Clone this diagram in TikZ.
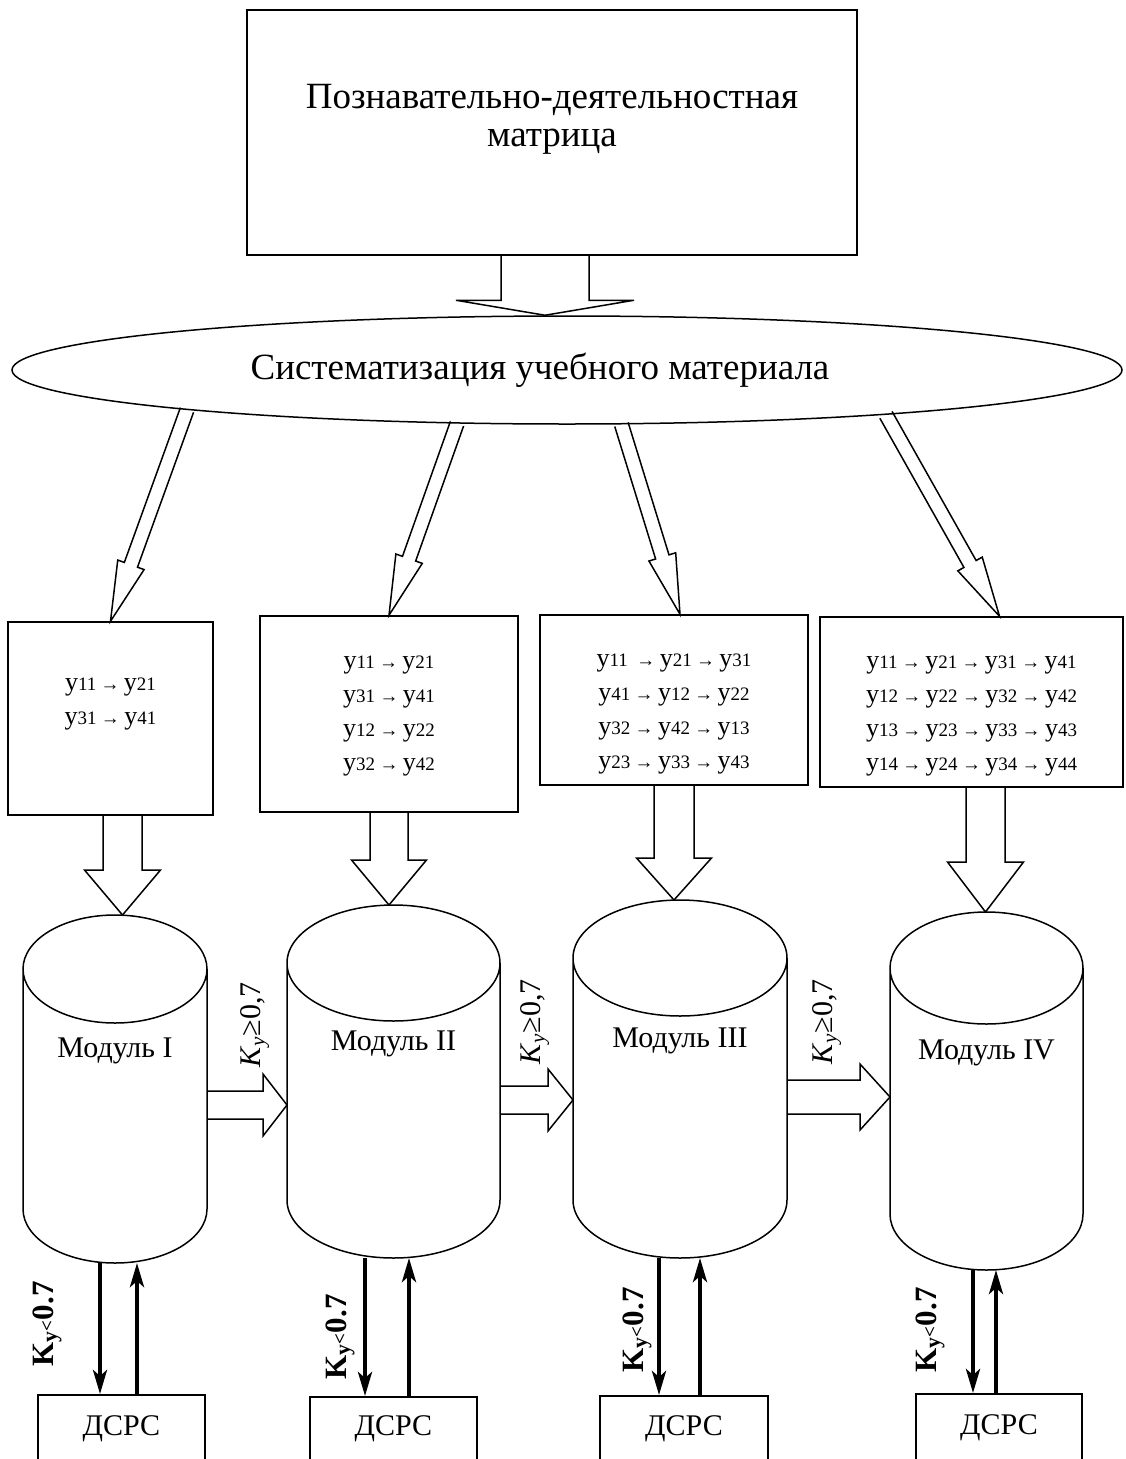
\documentclass[tikz,border=0pt]{standalone}
\usepackage{fontspec}
\setmainfont{Liberation Serif}
\usetikzlibrary{arrows.meta,calc,shapes.geometric}

\newcommand{\titlefont}{\fontsize{37}{38}\selectfont}
\newcommand{\modfont}{\fontsize{30}{34}\selectfont}
\newcommand{\kvfont}{\fontsize{31}{34}\selectfont}
\newcommand{\rowfont}{\fontsize{26}{34}\selectfont}
\newcommand{\idxfont}{\fontsize{19}{20}\selectfont}
\newcommand{\yy}[1]{y{\idxfont #1}}
\newcommand{\ra}{\,{\idxfont →}\,}

% hollow block arrow: from, to, half shaft, half head, head length
\newcommand{\fatarrow}[5]{%
  \path let \p1=(#1), \p2=(#2) in \pgfextra{%
    \pgfmathsetmacro{\fatang}{atan2(\y2-\y1,\x2-\x1)}%
    \pgfmathsetmacro{\fatlen}{veclen(\x2-\x1,\y2-\y1)}%
    \xdef\fatang{\fatang}\xdef\fatlen{\fatlen}%
    \xdef\fatx{\x1}\xdef\faty{\y1}};
  \draw[fatarr, shift={(\fatx,\faty)}, rotate=\fatang]
    (0pt,-#3) -- ({\fatlen pt-#5},-#3) -- ({\fatlen pt-#5},-#4) -- (\fatlen pt,0pt)
    -- ({\fatlen pt-#5},#4) -- ({\fatlen pt-#5},#3) -- (0pt,#3);
}
% cylinder outline round a drum node: node, half width, cap radius
\newcommand{\drum}[3]{%
  \draw[drumline] ([yshift=-#3]#1.north west) -- ([yshift=#3]#1.south west)
    arc[start angle=180, end angle=360, x radius=#2, y radius=#3]
    -- ([yshift=-#3]#1.north east)
    arc[start angle=0, end angle=360, x radius=#2, y radius=#3];
}

\tikzset{
  box/.style={draw, line width=1.5pt, inner sep=0pt},
  oval/.style={ellipse, draw, line width=1.5pt, inner sep=0pt},
  drum/.style={inner sep=0pt, outer sep=0pt},
  drumline/.style={line width=1.5pt},
  fatarr/.style={line width=1.5pt, line join=miter},
  titletext/.style={font=\titlefont, align=center},
  rowtext/.style={font=\rowfont, align=center},
  modtext/.style={font=\modfont, yshift=38pt},
  sidetext/.style={font=\modfont, rotate=90, inner sep=0pt},
  bottext/.style={font=\kvfont\bfseries, rotate=90, inner sep=0pt},
  thickarr/.style={line width=4pt, -{Stealth[length=24pt, width=14pt, inset=6pt]}}
}

\begin{document}
\begin{tikzpicture}[x=1pt, y=-1pt]
  \useasboundingbox (0,0) rectangle (1125,1459);

  \node[box, minimum width=610pt, minimum height=245pt,
    label={[titletext, yshift=13pt]center:{Познавательно-деятельностная\\матрица}}] (pdm) at (552,132.5) {};
  \node[oval, minimum width=1110pt, minimum height=108pt,
    label={[titletext, xshift=-27pt]center:Систематизация учебного материала}] (sys) at (567,370) {};

  % content boxes
  \node[box, minimum width=205pt, minimum height=193pt,
    label={[rowtext, yshift=14pt]center:{\yy{11}\ra\yy{21}\\ \yy{31}\ra\yy{41}}}] (b1) at (110.5,718.5) {};
  \node[box, minimum width=258pt, minimum height=196pt,
    label={[rowtext, yshift=-2pt]center:{\yy{11}\ra\yy{21}\\ \yy{31}\ra\yy{41}\\ \yy{12}\ra\yy{22}\\ \yy{32}\ra\yy{42}}}] (b2) at (389,714) {};
  \node[box, minimum width=268pt, minimum height=170pt,
    label={[rowtext, yshift=-14pt]center:{\yy{11}\,\ra\yy{21}\ra\yy{31}\\ \yy{41}\ra\yy{12}\ra\yy{22}\\ \yy{32}\ra\yy{42}\ra\yy{13}\\ \yy{23}\ra\yy{33}\ra\yy{43}}}] (b3) at (674,700) {};
  \node[box, minimum width=303pt, minimum height=170pt,
    label={[rowtext, yshift=-14.5pt]center:{\yy{11}\ra\yy{21}\ra\yy{31}\ra\yy{41}\\ \yy{12}\ra\yy{22}\ra\yy{32}\ra\yy{42}\\ \yy{13}\ra\yy{23}\ra\yy{33}\ra\yy{43}\\ \yy{14}\ra\yy{24}\ra\yy{34}\ra\yy{44}}}] (b4) at (971.5,702) {};

  % modules
  \node[drum, minimum width=184pt, minimum height=348pt, label={[modtext]center:Модуль I}] (m1) at (115,1089) {};
  \node[drum, minimum width=213pt, minimum height=353pt, label={[modtext]center:Модуль II}] (m2) at (393.5,1081.5) {};
  \node[drum, minimum width=214pt, minimum height=358pt, label={[modtext]center:Модуль III}] (m3) at (680,1079) {};
  \node[drum, minimum width=193pt, minimum height=358pt, label={[modtext]center:Модуль IV}] (m4) at (986.5,1091) {};
  \drum{m1}{92pt}{54pt}
  \drum{m2}{106.5pt}{58pt}
  \drum{m3}{107pt}{58pt}
  \drum{m4}{96.5pt}{56pt}

  % DSRS boxes
  \node[box, anchor=north, minimum width=167pt, minimum height=100pt,
    label={[font=\modfont, anchor=center, yshift=-35pt]north:ДСРС}] (d1) at (121.5,1394) {};
  \node[box, anchor=north, minimum width=167pt, minimum height=100pt,
    label={[font=\modfont, anchor=center, yshift=-33pt]north:ДСРС}] (d2) at (393.5,1396) {};
  \node[box, anchor=north, minimum width=168pt, minimum height=100pt,
    label={[font=\modfont, anchor=center, yshift=-34pt]north:ДСРС}] (d3) at (684,1395) {};
  \node[box, anchor=north, minimum width=166pt, minimum height=100pt,
    label={[font=\modfont, anchor=center, yshift=-35pt]north:ДСРС}] (d4) at (999,1393) {};

  % block arrows
  \coordinate (pdmout) at ([xshift=-7pt]pdm.south);
  \fatarrow{pdmout}{pdmout |- sys.north}{44pt}{89pt}{15pt}
  \fatarrow{sys.186.5}{b1.north}{7pt}{14pt}{60pt}
  \fatarrow{sys.206.8}{b2.north}{7pt}{14pt}{60pt}
  \fatarrow{sys.-45.4}{[xshift=6pt]b3.north}{7pt}{14pt}{60pt}
  \fatarrow{sys.-8}{[xshift=28pt]b4.north}{7pt}{14pt}{60pt}

  \coordinate (b1out) at ([xshift=12pt]b1.south);
  \fatarrow{b1out}{b1out |- m1.north}{19.5pt}{38pt}{45pt}
  \fatarrow{b2.south}{b2.south |- m2.north}{19pt}{37.5pt}{45pt}
  \fatarrow{b3.south}{b3.south |- m3.north}{20pt}{37.5pt}{42pt}
  \coordinate (b4out) at ([xshift=14pt]b4.south);
  \fatarrow{b4out}{b4out |- m4.north}{19.5pt}{38pt}{50pt}

  \coordinate (m1out) at ([yshift=-16pt]m1.east);
  \fatarrow{m1out}{m1out -| m2.west}{14pt}{31pt}{24pt}
  \coordinate (m2out) at ([yshift=-18.5pt]m2.east);
  \fatarrow{m2out}{m2out -| m3.west}{14pt}{31pt}{25pt}
  \coordinate (m3out) at ([yshift=-18pt]m3.east);
  \fatarrow{m3out}{m3out -| m4.west}{17pt}{33pt}{30pt}

  \node[sidetext] (ky1) at (255,1025) {\textit{K}\textsubscript{\textit{y}}≥0,7};
  \node[sidetext] (ky2) at (535,1022) {\textit{K}\textsubscript{\textit{y}}≥0,7};
  \node[sidetext] (ky3) at (827,1022) {\textit{K}\textsubscript{\textit{y}}≥0,7};

  % return loops
  \coordinate (dn1) at ([xshift=-15pt]m1.south);
  \coordinate (up1) at ([xshift=22pt]m1.south);
  \coordinate (dn2) at ([xshift=-28.5pt]m2.south);
  \coordinate (up2) at ([xshift=15.5pt]m2.south);
  \coordinate (dn3) at ([xshift=-21pt]m3.south);
  \coordinate (up3) at ([xshift=20pt]m3.south);
  \coordinate (dn4) at ([xshift=-13.5pt]m4.south);
  \coordinate (up4) at ([xshift=9.5pt]m4.south);
  \draw[thickarr] (dn1) -- (dn1 |- d1.north);
  \draw[thickarr] (up1 |- d1.north) -- (up1);
  \draw[thickarr] (dn2) -- (dn2 |- d2.north);
  \draw[thickarr] (up2 |- d2.north) -- (up2);
  \draw[thickarr] (dn3) -- (dn3 |- d3.north);
  \draw[thickarr] (up3 |- d3.north) -- (up3);
  \draw[thickarr] (dn4) -- (dn4 |- d4.north);
  \draw[thickarr] (up4 |- d4.north) -- (up4);

  \node[bottext] (kv1) at (47,1324) {K\textsubscript{у}{\idxfont<}0.7};
  \node[bottext] (kv2) at (340,1337) {K\textsubscript{у}{\idxfont<}0.7};
  \node[bottext] (kv3) at (637,1330) {K\textsubscript{у}{\idxfont<}0.7};
  \node[bottext] (kv4) at (930,1330) {K\textsubscript{у}{\idxfont<}0.7};
\end{tikzpicture}
\end{document}
